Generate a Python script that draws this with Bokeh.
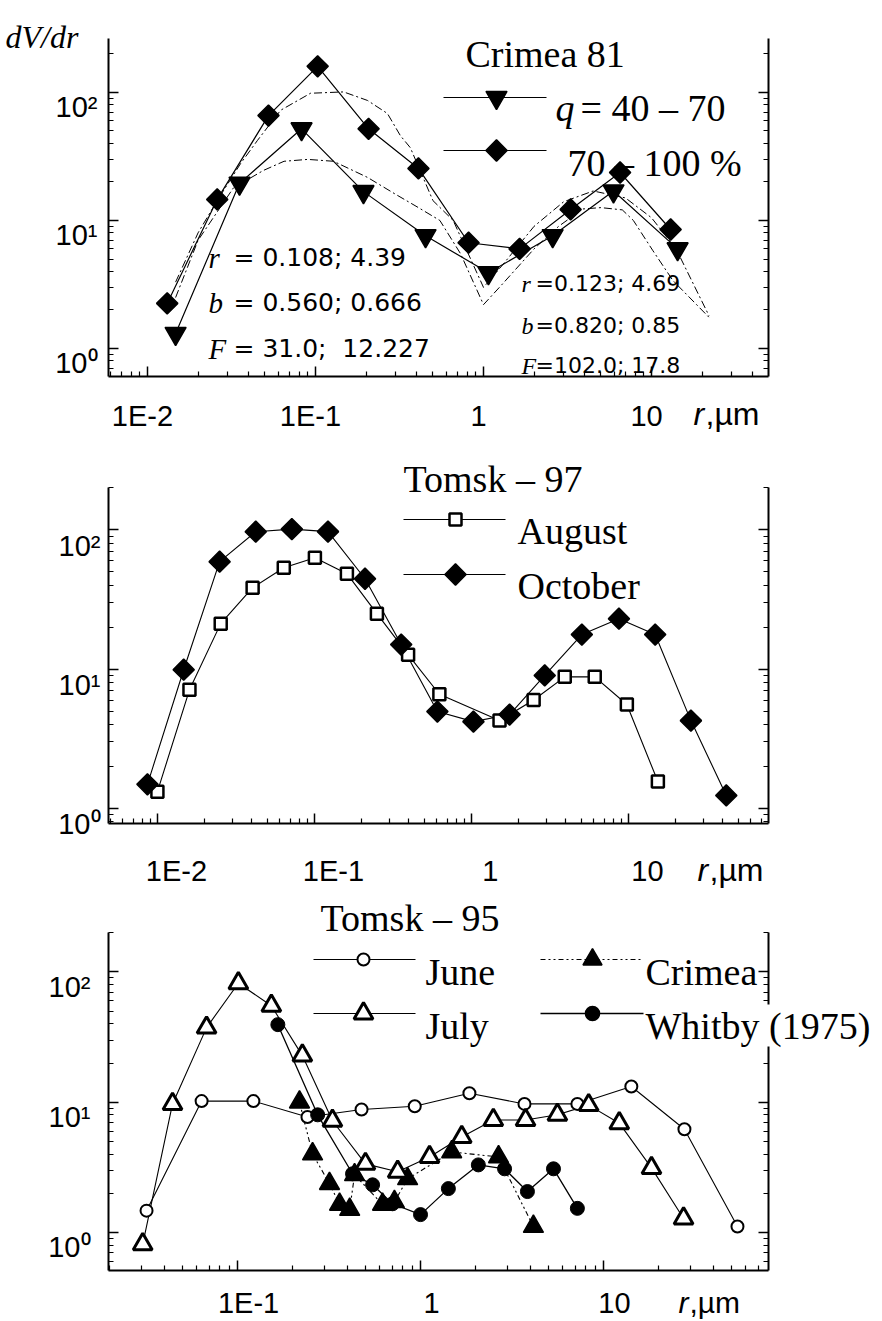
import math
from bokeh.plotting import figure
from bokeh.models import Range1d, LogAxis, FixedTicker, Label
from bokeh.embed import file_html
from bokeh.resources import INLINE

# ---------------- data ----------------
# Panel 1 : Crimea 81
c81_q40_r = [0.0147, 0.0353, 0.0826, 0.193, 0.452, 1.07, 2.58, 5.94, 14.3]
c81_q40_v = [1.31, 19.5, 52, 16.8, 7.6, 3.9, 7.6, 17, 6.0]
c81_q70_r = [0.0131, 0.026, 0.0525, 0.103, 0.207, 0.41, 0.815, 1.64, 3.3, 6.5, 13.0]
c81_q70_v = [2.25, 14.6, 66, 160, 52, 25.5, 6.7, 6.0, 12.2, 23.7, 8.5]
# fitted (dash-dot) curves
fit_q40_r = [0.0147, 0.02, 0.0325, 0.049, 0.065, 0.09, 0.128, 0.204, 0.3, 0.41, 0.55, 0.73,
             1.0, 1.3, 2.0, 2.8, 3.9, 5.0, 6.7, 7.8, 10.2, 13.4, 22]
fit_q40_v = [2.5, 7, 18, 24.6, 29, 30, 29, 21.7, 16, 12.6, 10, 5.5,
             2.2, 3.2, 6.0, 9.0, 12.3, 12.6, 12.1, 10, 5.8, 3.4, 1.75]
fit_q70_r = [0.0147, 0.02, 0.026, 0.0358, 0.0452, 0.062, 0.0934, 0.147, 0.204, 0.268, 0.32,
             0.367, 0.5, 0.66, 1.0, 1.3, 2.0, 3.0, 4.5, 7.0, 10, 14, 22]
fit_q70_v = [3.3, 8, 14.3, 27.8, 42.3, 72.6, 98.6, 101, 86.6, 68.5, 46,
             37, 14.3, 10, 3.0, 4.5, 9, 14, 17, 15, 10.5, 6, 1.8]

# Panel 2 : Tomsk - 97
t97_aug_r = [0.01, 0.016, 0.0253, 0.0404, 0.0638, 0.1007, 0.161, 0.25, 0.395, 0.625,
             1.51, 2.49, 3.93, 6.1, 9.77, 15.4]
t97_aug_v = [1.32, 7.1, 21.2, 38.4, 53.4, 63, 48.4, 25, 12.7, 6.6,
             4.27, 6.0, 8.8, 8.8, 5.57, 1.56]
t97_oct_r = [0.00864, 0.0147, 0.0249, 0.0423, 0.0718, 0.122, 0.21, 0.357, 0.607, 1.03,
             1.75, 2.93, 5.05, 8.7, 14.8, 25, 42]
t97_oct_v = [1.49, 9.9, 59, 96.8, 101, 97, 44.5, 15, 4.96, 4.2,
             4.72, 9.0, 17.7, 23, 17.7, 4.27, 1.24]

# Panel 3 : Tomsk - 95
t95_jun_r = [0.0318, 0.0636, 0.122, 0.241, 0.476, 0.93, 1.85, 3.7, 7.2, 14.2, 27.7, 54]
t95_jun_v = [1.47, 10.2, 10.2, 7.7, 8.8, 9.3, 11.7, 9.7, 9.7, 13.2, 6.2, 1.11]
t95_jul_r = [0.0303, 0.0441, 0.0677, 0.101, 0.153, 0.226, 0.33, 0.5, 0.75, 1.12, 1.68,
             2.5, 3.75, 5.6, 8.3, 12.2, 18.3, 27.4]
t95_jul_v = [0.81, 9.7, 37.4, 82, 55, 22.8, 7.2, 3.36, 2.92, 3.8, 5.4,
             7.3, 7.3, 8.0, 9.5, 6.9, 3.13, 1.28]
crimea_r = [0.218, 0.257, 0.318, 0.361, 0.41, 0.436, 0.62, 0.72, 0.85, 1.48, 2.67, 4.14]
crimea_v = [10.0, 4.0, 2.37, 1.64, 1.5, 2.77, 1.64, 1.72, 2.58, 4.15, 3.8, 1.11]
whitby_r = [0.166, 0.274, 0.425, 0.547, 0.703, 1.0, 1.42, 2.07, 2.88, 3.84, 5.33, 7.2]
whitby_v = [39.4, 8.0, 2.82, 2.32, 1.66, 1.37, 2.17, 3.3, 3.08, 2.06, 3.08, 1.53]

x_tick_labels = {0.01: "1E-2", 0.1: "1E-1", 1.0: "1", 10.0: "10"}
y_tick_labels = {1.0: "10\u2070", 10.0: "10\u00b9", 100.0: "10\u00b2"}

# ---------------- layout constants ----------------
W = 882
HT = 1321
FL = 108          # left edge of every axes box
FW = 660          # width of every axes box
SERIF = "Liberation Serif"
SANS = "Liberation Sans"
TICK_FS = "29px"
DIAMOND_ANGLE = math.pi / 4

p = figure(width=W, height=HT, x_axis_type="log", y_axis_type="log",
           x_axis_location=None, y_axis_location=None,
           output_backend="svg", toolbar_location=None,
           min_border=0, min_border_left=0, min_border_right=0,
           min_border_top=0, min_border_bottom=0)
p.title.visible = False
p.outline_line_color = None
p.grid.visible = False
p.background_fill_color = "white"
p.border_fill_color = "white"


def ticks(lo, hi):
    major = [v for v in (0.001, 0.01, 0.1, 1.0, 10.0, 100.0, 1000.0) if lo <= v <= hi]
    minor = []
    for e in (0.001, 0.01, 0.1, 1.0, 10.0, 100.0):
        for k in range(2, 10):
            v = round(k * e, 6)
            if lo <= v <= hi:
                minor.append(v)
    return major, minor


def style_axis(ax, major):
    ax.axis_line_width = 2
    ax.axis_line_color = "black"
    ax.major_tick_in = 10
    ax.major_tick_out = 0
    ax.minor_tick_in = 5
    ax.minor_tick_out = 0
    ax.major_tick_line_width = 1.5
    ax.minor_tick_line_width = 1.2
    ax.major_tick_line_color = "black"
    ax.minor_tick_line_color = "black"
    ax.major_label_text_font_size = "10px"
    ax.major_label_overrides = {k: " " for k in major}


class Panel:
    def __init__(self, name, ftop, fb, xr, yr, xlab, ylab):
        self.name = name
        self.ftop, self.fb, self.fh = ftop, fb, fb - ftop
        self.lx0, self.lx1 = math.log10(xr[0]), math.log10(xr[1])
        self.ly0, self.ly1 = math.log10(yr[0]), math.log10(yr[1])
        self.kx = (self.lx1 - self.lx0) / FW
        self.ky = (self.ly1 - self.ly0) / self.fh
        x_full = Range1d(10 ** (self.lx0 - FL * self.kx),
                         10 ** (self.lx1 + (W - FL - FW) * self.kx))
        y_full = Range1d(10 ** (self.ly0 - (HT - fb) * self.ky),
                         10 ** (self.ly1 + ftop * self.ky))
        if name == "default":
            p.x_range = x_full
            p.y_range = y_full
        else:
            p.extra_x_ranges[name] = x_full
            p.extra_y_ranges[name] = y_full
        self.rk = dict(x_range_name=name, y_range_name=name)
        xmaj, xmin = ticks(*xr)
        ymaj, ymin = ticks(*yr)
        xa = LogAxis(ticker=FixedTicker(ticks=xmaj, minor_ticks=xmin),
                     fixed_location=yr[0], bounds=xr, **self.rk)
        ya = LogAxis(ticker=FixedTicker(ticks=ymaj, minor_ticks=ymin),
                     fixed_location=xr[0], bounds=yr, **self.rk)
        ra = LogAxis(ticker=FixedTicker(ticks=ymaj, minor_ticks=ymin),
                     fixed_location=xr[1], bounds=yr, **self.rk)
        style_axis(xa, xmaj)
        style_axis(ya, ymaj)
        style_axis(ra, ymaj)
        p.add_layout(xa, "below")
        p.add_layout(ya, "left")
        p.add_layout(ra, "right")
        # tick labels, positioned from the tick values through the scales
        dx, xbase = xlab
        for t in xmaj:
            p.add_layout(Label(x=t, y=yr[0], x_units="data", y_units="data",
                               x_offset=dx, y_offset=-xbase, text=x_tick_labels[t],
                               text_font=SANS, text_font_size=TICK_FS,
                               text_align="center", text_baseline="alphabetic",
                               text_color="black", **self.rk))
        yx, ybase = ylab
        for t in ymaj:
            p.add_layout(Label(x=xr[0], y=t, x_units="data", y_units="data",
                               x_offset=-yx, y_offset=-ybase, text=y_tick_labels[t],
                               text_font=SANS, text_font_size=TICK_FS,
                               text_align="right", text_baseline="alphabetic",
                               text_color="black", **self.rk))

    def fx(self, px):
        return 10 ** (self.lx0 + (px - FL) * self.kx)

    def fy(self, py):
        return 10 ** (self.ly1 - (py - self.ftop) * self.ky)

    def line(self, xs, ys, **kw):
        p.line(xs, ys, line_color="black", **self.rk, **kw)

    def scatter(self, xs, ys, **kw):
        p.scatter(xs, ys, line_color="black", **self.rk, **kw)

    def text(self, px, py, s, size, font=SERIF, style="normal", align="left",
             baseline="alphabetic", bg=None):
        kw = dict(x=px, y=HT - py, x_units="screen", y_units="screen",
                  text=s, text_font=font, text_font_size=f"{size}px",
                  text_font_style=style, text_align=align, text_baseline=baseline,
                  text_color="black")
        if bg is not None:
            kw.update(background_fill_color=bg, background_fill_alpha=1.0)
        p.add_layout(Label(**kw))

    def legend_sample(self, x0, x1, xm, py, marker, size, fill, lw=1.2, dash="solid",
                      mlw=1.5, angle=0.0):
        y = self.fy(py)
        self.line([self.fx(x0), self.fx(x1)], [y, y], line_width=lw, line_dash=dash)
        self.scatter([self.fx(xm)], [y], marker=marker, size=size, fill_color=fill,
                     line_width=mlw, angle=angle)


# ---------------- panel 1 : Crimea 81 ----------------
P1 = Panel("default", 38, 376, (0.00586, 49.7), (0.604, 264), (-5, 39), (11, 15))
DD = "8 3 2 3"
P1.line(fit_q40_r, fit_q40_v, line_width=1, line_dash=DD)
P1.line(fit_q70_r, fit_q70_v, line_width=1, line_dash=DD)
P1.line(c81_q40_r, c81_q40_v, line_width=1.2)
P1.line(c81_q70_r, c81_q70_v, line_width=1.2)
P1.scatter(c81_q40_r, c81_q40_v, marker="inverted_triangle", size=21,
           fill_color="black", line_width=1.5)
P1.scatter(c81_q70_r, c81_q70_v, marker="square", angle=DIAMOND_ANGLE, size=15,
           fill_color="black", line_width=1.5)
P1.legend_sample(443, 546, 496, 97, "inverted_triangle", 21, "black")
P1.legend_sample(443, 546, 496, 150, "square", 15, "black", angle=DIAMOND_ANGLE)
P1.text(5, 36, "dV/dr", 32, style="italic")
P1.text(465, 53, "Crimea 81", 38)
P1.text(555, 107, "q", 38, style="italic")
P1.text(580, 107, "= 40 \u2013 70", 38)
P1.text(567, 162, "70 \u2013 100 %", 38)
for (py, letter, rest) in [(257, "r", "= 0.108; 4.39"), (302, "b", "= 0.560; 0.666"),
                           (348, "F", "= 31.0;\u00a0 12.227")]:
    P1.text(208, py, letter, 29, style="italic")
    P1.text(233, py, rest, 25, font="DejaVu Sans")
for (py, letter, rest) in [(283, "r", "=0.123; 4.69"), (325, "b", "=0.820; 0.85"),
                           (365, "F", "=102.0; 17.8")]:
    P1.text(521, py, letter, 24, style="italic")
    P1.text(535, py, rest, 22, font="DejaVu Sans")
P1.text(693, 413, "r", 32, font=SANS, style="italic")
P1.text(705, 413, ",\u00b5m", 32, font=SANS)

# ---------------- panel 2 : Tomsk - 97 ----------------
P2 = Panel("p2", 487, 823, (0.00488, 78), (0.78, 201), (19, 47), (8, 16))
P2.line(t97_aug_r, t97_aug_v, line_width=1.1)
P2.line(t97_oct_r, t97_oct_v, line_width=1.1)
P2.scatter(t97_aug_r, t97_aug_v, marker="square", size=12, fill_color="white", line_width=2.5)
P2.scatter(t97_oct_r, t97_oct_v, marker="square", angle=DIAMOND_ANGLE, size=15,
           fill_color="black", line_width=1.5)
P2.legend_sample(403, 505, 455, 519, "square", 12, "white", mlw=2.5)
P2.legend_sample(403, 505, 455, 574, "square", 15, "black", angle=DIAMOND_ANGLE)
P2.text(403, 478, "Tomsk \u2013 97", 38)
P2.text(517, 530, "August", 38)
P2.text(517, 585, "October", 38)
P2.text(697, 869, "r", 32, font=SANS, style="italic")
P2.text(709, 869, ",\u00b5m", 32, font=SANS)

# ---------------- panel 3 : Tomsk - 95 ----------------
P3 = Panel("p3", 932, 1270, (0.0197, 79.8), (0.51, 201), (11, 32), (18, 15))
CD = "5 3 2 3 2 3"
P3.line(t95_jun_r, t95_jun_v, line_width=1.1)
P3.line(t95_jul_r, t95_jul_v, line_width=1.1)
P3.line(crimea_r, crimea_v, line_width=1.1, line_dash=CD)
P3.line(whitby_r, whitby_v, line_width=1.3)
P3.scatter(t95_jun_r, t95_jun_v, marker="circle", size=12, fill_color="white", line_width=2)
P3.scatter(crimea_r, crimea_v, marker="triangle", size=20, fill_color="black", line_width=1.5)
P3.scatter(whitby_r, whitby_v, marker="circle", size=14, fill_color="black", line_width=1)
P3.scatter(t95_jul_r, t95_jul_v, marker="triangle", size=19, fill_color="white", line_width=3)
P3.legend_sample(313, 415, 363, 959, "circle", 12, "white", mlw=2)
P3.legend_sample(313, 415, 363, 1013, "triangle", 19, "white", mlw=3)
P3.legend_sample(540, 643, 592, 959, "triangle", 19, "black", dash=CD)
P3.legend_sample(540, 643, 592, 1013, "circle", 14, "black", lw=1.3)
P3.text(320, 917, "Tomsk \u2013 95", 38)
P3.text(425, 971, "June", 38)
P3.text(425, 1025, "July", 38)
P3.text(645, 971, "Crimea", 38)
P3.text(645, 1025, "Whitby (1975)", 38, bg="white")
P3.text(678, 1302, "r", 30, font=SANS, style="italic")
P3.text(689, 1302, ",\u00b5m", 30, font=SANS)

open("out.html", "w").write(file_html(p, INLINE))
